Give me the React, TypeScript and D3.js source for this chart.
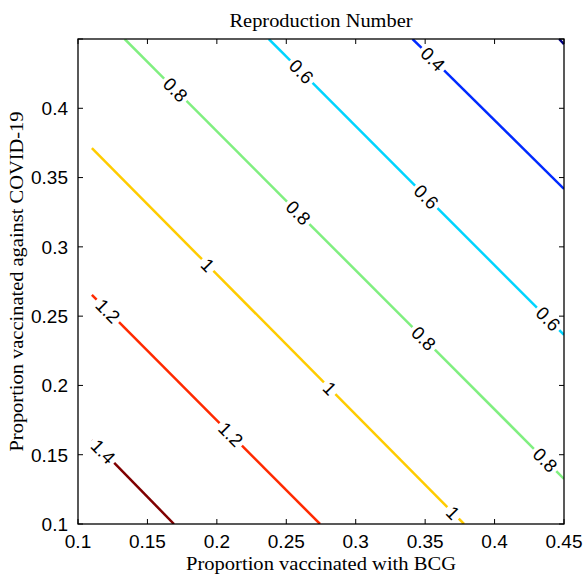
import React from "react";
import * as d3 from "d3";

// ---- data ----
const xTicks = [0.1, 0.15, 0.2, 0.25, 0.3, 0.35, 0.4, 0.45];
const yTicks = [0.1, 0.15, 0.2, 0.25, 0.3, 0.35, 0.4, 0.45];
const yTickLabels = ["0.1", "0.15", "0.2", "0.25", "0.3", "0.35", "0.4", ""];
const xTickLabels = ["0.1", "0.15", "0.2", "0.25", "0.3", "0.35", "0.4", "0.45"];

const levels = [0.2, 0.4, 0.6, 0.8, 1.0, 1.2, 1.4];
const levelColors = ["#000080", "#002aff", "#00d4ff", "#80ef80", "#ffcc00", "#ff2a00", "#800000"];

// contour polylines [x, y]
const contour02 = [[0.4465, 0.45], [0.45, 0.4462]];
const contour04 = [[0.3409, 0.45], [0.45, 0.3418]];
const contour06 = [[0.2374, 0.45], [0.45, 0.2365]];
const contour08 = [[0.1336, 0.45], [0.45, 0.1325]];
const contour10 = [[0.11, 0.3713], [0.378, 0.1]];
const contour12 = [[0.11, 0.2653], [0.2743, 0.1]];
const contour14 = [[0.11, 0.1606], [0.1691, 0.1]];

// inline label positions [x, y]
const labels02: number[][] = [];
const labels04 = [[0.3535, 0.4334]];
const labels06 = [[0.2599, 0.4255], [0.3485, 0.3338], [0.4363, 0.2458]];
const labels08 = [[0.1677, 0.411], [0.2577, 0.3237], [0.3463, 0.2313], [0.4349, 0.1447]];
const labels10 = [[0.1927, 0.2862], [0.28, 0.1967], [0.37, 0.1079]];
const labels12 = [[0.1207, 0.253], [0.2095, 0.1642]];
const labels14 = [[0.1178, 0.152]];

const contours = [contour02, contour04, contour06, contour08, contour10, contour12, contour14];
const contourLabels = [labels02, labels04, labels06, labels08, labels10, labels12, labels14];

const title = "Reproduction Number";
const xTitle = "Proportion vaccinated with BCG";
const yTitle = "Proportion vaccinated against COVID-19";

// ---- layout ----
const W = 585, H = 577;
const L = 78, R = 564, T = 39, B = 524;
const labelFont = 18.5;

function textWidth(s: string, fs: number) {
  let w = 0;
  for (const c of s) w += c === "." ? 0.278 : 0.556;
  return w * fs;
}

export default function App() {
  const x = d3.scaleLinear().domain([0.1, 0.45]).range([L, R]);
  const y = d3.scaleLinear().domain([0.1, 0.45]).range([B, T]);

  const segments: { d: string; color: string; key: string }[] = [];
  const texts: { x: number; y: number; a: number; t: string; key: string }[] = [];

  contours.forEach((pts, i) => {
    const color = levelColors[i];
    const p0 = [x(pts[0][0]), y(pts[0][1])];
    const p1 = [x(pts[1][0]), y(pts[1][1])];
    const dx = p1[0] - p0[0], dy = p1[1] - p0[1];
    const len = Math.hypot(dx, dy);
    const ux = dx / len, uy = dy / len;
    const ang = (Math.atan2(dy, dx) * 180) / Math.PI;
    const txt = String(levels[i]);
    const gaps: [number, number][] = [];
    contourLabels[i].forEach((lp, j) => {
      const px = x(lp[0]) - p0[0], py = y(lp[1]) - p0[1];
      const t = px * ux + py * uy;
      const half = (textWidth(txt, labelFont) + 6) / 2;
      gaps.push([t - half, t + half]);
      texts.push({ x: p0[0] + ux * t, y: p0[1] + uy * t, a: ang, t: txt, key: `t${i}-${j}` });
    });
    gaps.sort((a, b) => a[0] - b[0]);
    let s = 0;
    const pieces: [number, number][] = [];
    gaps.forEach(([g0, g1]) => {
      if (g0 > s) pieces.push([s, Math.min(g0, len)]);
      s = Math.max(s, g1);
    });
    if (s < len) pieces.push([s, len]);
    const line = d3.line();
    pieces.forEach(([a, b], k) => {
      if (b <= a) return;
      const d = line([
        [p0[0] + ux * a, p0[1] + uy * a],
        [p0[0] + ux * b, p0[1] + uy * b],
      ]) as string;
      segments.push({ d, color, key: `s${i}-${k}` });
    });
  });

  const tickLen = 5;
  const sans = "'Liberation Sans', Arial, sans-serif";
  const serif = "'Liberation Serif', 'Times New Roman', serif";

  return (
    <svg width={W} height={H} style={{ position: "absolute", left: 0, top: 0, background: "#fff" }}>
      <rect x={0} y={0} width={W} height={H} fill="#fff" />
      <defs>
        <clipPath id="plotclip">
          <rect x={L} y={T} width={R - L} height={B - T} />
        </clipPath>
      </defs>
      <g clipPath="url(#plotclip)">
        {segments.map((s) => (
          <path key={s.key} d={s.d} stroke={s.color} strokeWidth={2.5} fill="none" />
        ))}
      </g>
      {texts.map((t) => (
        <text
          key={t.key}
          transform={`translate(${t.x},${t.y}) rotate(${t.a})`}
          textAnchor="middle"
          dominantBaseline="central"
          fontFamily={sans}
          fontSize={labelFont}
          fill="#000"
        >
          {t.t}
        </text>
      ))}
      {/* frame */}
      <rect x={L} y={T} width={R - L} height={B - T} fill="none" stroke="#000" strokeWidth={1.3} />
      {xTicks.map((v, i) => (
        <g key={`xt${i}`}>
          <line x1={x(v)} x2={x(v)} y1={B} y2={B - tickLen} stroke="#000" strokeWidth={1} />
          <line x1={x(v)} x2={x(v)} y1={T} y2={T + tickLen} stroke="#000" strokeWidth={1} />
          <text x={x(v)} y={B + 24} textAnchor="middle" fontFamily={sans} fontSize={19} fill="#000">
            {xTickLabels[i]}
          </text>
        </g>
      ))}
      {yTicks.map((v, i) => (
        <g key={`yt${i}`}>
          <line x1={L} x2={L + tickLen} y1={y(v)} y2={y(v)} stroke="#000" strokeWidth={1} />
          <line x1={R} x2={R - tickLen} y1={y(v)} y2={y(v)} stroke="#000" strokeWidth={1} />
          <text x={L - 10} y={y(v)} dy="0.36em" textAnchor="end" fontFamily={sans} fontSize={19} fill="#000">
            {yTickLabels[i]}
          </text>
        </g>
      ))}
      <text x={(L + R) / 2} y={27} textAnchor="middle" fontFamily={serif} fontSize={19} textLength={183} lengthAdjust="spacingAndGlyphs" fill="#000">
        {title}
      </text>
      <text x={(L + R) / 2} y={570} textAnchor="middle" fontFamily={serif} fontSize={19} textLength={270} lengthAdjust="spacingAndGlyphs" fill="#000">
        {xTitle}
      </text>
      <text
        transform={`translate(23,${(T + B) / 2}) rotate(-90)`}
        textAnchor="middle"
        fontFamily={serif}
        fontSize={19}
        textLength={340}
        lengthAdjust="spacingAndGlyphs"
        fill="#000"
      >
        {yTitle}
      </text>
    </svg>
  );
}
